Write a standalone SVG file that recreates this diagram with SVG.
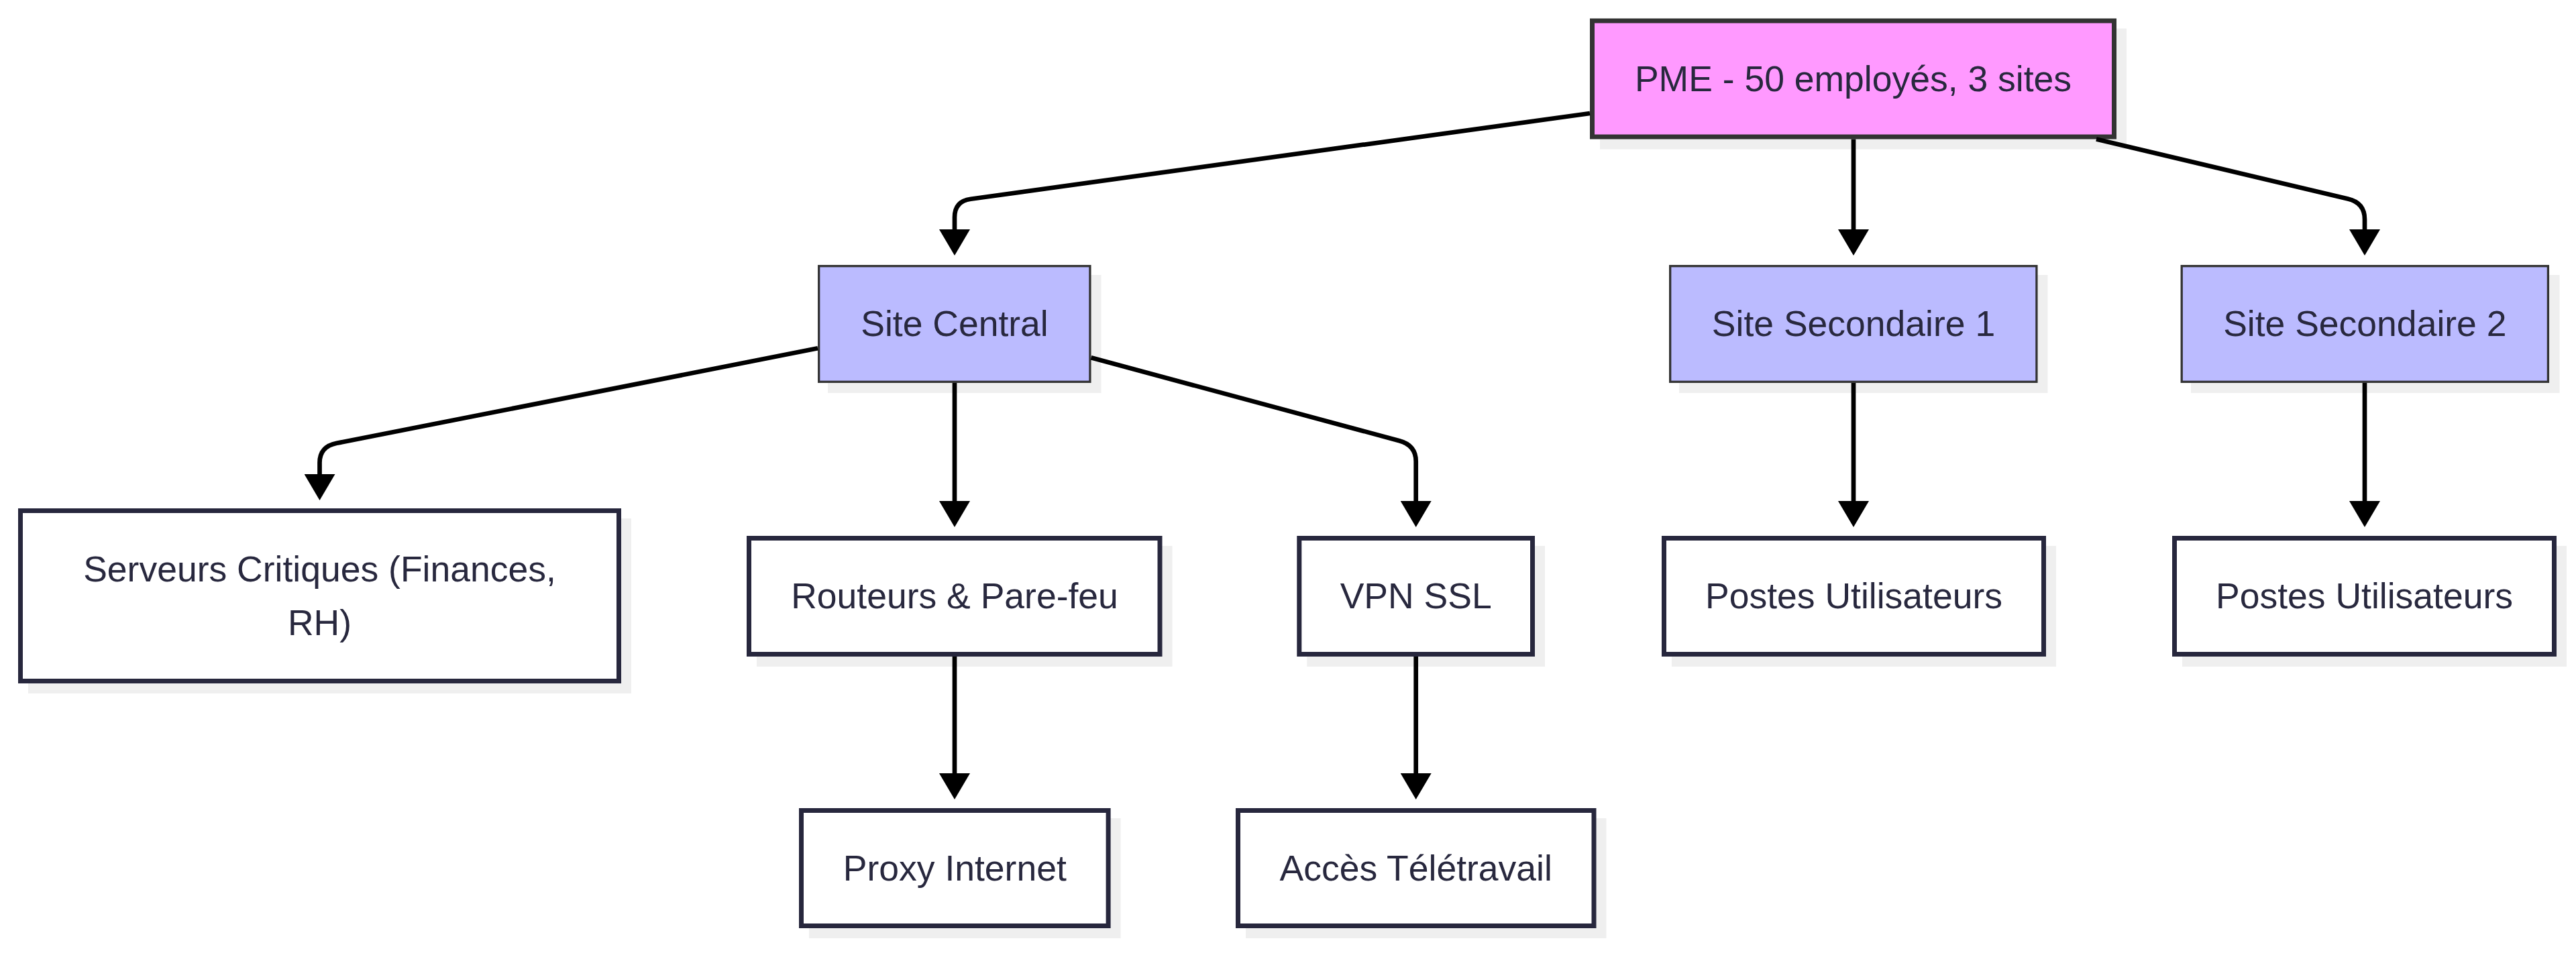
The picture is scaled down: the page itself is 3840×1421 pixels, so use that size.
<svg xmlns="http://www.w3.org/2000/svg" width="3840" height="1421" viewBox="0 0 3840 1421">
  <style>
    .shadow { fill: #efefef; stroke: none; }
    .root { fill: #ff99ff; stroke: #333333; stroke-width: 7; }
    .site { fill: #bbbbff; stroke: #333333; stroke-width: 3.3; }
    .leaf { fill: #ffffff; stroke: #27273d; stroke-width: 7; }
    .label { font-family: "Liberation Sans", Arial, sans-serif; font-size: 53.5px; fill: #28283e; text-anchor: middle; }
    .edge { fill: none; stroke: #000000; stroke-width: 6.7; marker-end: url(#arrow); }
  </style>
  <defs>
    <marker id="arrow" markerUnits="userSpaceOnUse" viewBox="0 0 39 46" refX="0" refY="23" markerWidth="39" markerHeight="46" orient="auto">
      <path d="M0,0 L39,23 L0,46 z" fill="#000000"/>
    </marker>
  </defs>
  <rect width="3840" height="1421" fill="#ffffff"/>

  <g id="node-pme">
    <rect class="shadow" x="2385" y="42.5" width="785" height="180"/>
    <rect class="root" x="2373.5" y="31" width="778" height="173"/>
    <text class="label" x="2762.5" y="135.5">PME - 50 employés, 3 sites</text>
  </g>
  <g id="node-site-central">
    <rect class="shadow" x="1234" y="410" width="407.5" height="176"/>
    <rect class="site" x="1220.7" y="396.7" width="404.2" height="172.6"/>
    <text class="label" x="1423" y="501">Site Central</text>
  </g>
  <g id="node-site-secondaire-1">
    <rect class="shadow" x="2503" y="410" width="549.5" height="176"/>
    <rect class="site" x="2489.7" y="396.7" width="546.2" height="172.6"/>
    <text class="label" x="2763" y="501">Site Secondaire 1</text>
  </g>
  <g id="node-site-secondaire-2">
    <rect class="shadow" x="3266" y="410" width="549.5" height="176"/>
    <rect class="site" x="3252.2" y="396.7" width="546.2" height="172.6"/>
    <text class="label" x="3525.3" y="501">Site Secondaire 2</text>
  </g>
  <g id="node-serveurs">
    <rect class="shadow" x="42" y="773" width="899" height="261"/>
    <rect class="leaf" x="30.5" y="761.5" width="892" height="254"/>
    <text class="label" x="476.5" y="866.5">Serveurs Critiques (Finances,</text>
    <text class="label" x="476.5" y="946.5">RH)</text>
  </g>
  <g id="node-routeurs">
    <rect class="shadow" x="1128" y="814" width="619.5" height="180"/>
    <rect class="leaf" x="1116.5" y="802.5" width="612.5" height="173"/>
    <text class="label" x="1423" y="907">Routeurs &amp; Pare-feu</text>
  </g>
  <g id="node-vpn">
    <rect class="shadow" x="1948.3" y="814" width="354.7" height="180"/>
    <rect class="leaf" x="1936.8" y="802.5" width="347.7" height="173"/>
    <text class="label" x="2110.7" y="907">VPN SSL</text>
  </g>
  <g id="node-postes-1">
    <rect class="shadow" x="2492" y="814" width="573" height="180"/>
    <rect class="leaf" x="2480.5" y="802.5" width="566" height="173"/>
    <text class="label" x="2763.5" y="907">Postes Utilisateurs</text>
  </g>
  <g id="node-postes-2">
    <rect class="shadow" x="3253" y="814" width="573" height="180"/>
    <rect class="leaf" x="3241.5" y="802.5" width="566" height="173"/>
    <text class="label" x="3524.5" y="907">Postes Utilisateurs</text>
  </g>
  <g id="node-proxy">
    <rect class="shadow" x="1206" y="1220" width="464.6" height="179"/>
    <rect class="leaf" x="1194.5" y="1208.5" width="457.6" height="172"/>
    <text class="label" x="1423.3" y="1312.5">Proxy Internet</text>
  </g>
  <g id="node-acces">
    <rect class="shadow" x="1857" y="1220" width="537.5" height="179"/>
    <rect class="leaf" x="1845.5" y="1208.5" width="530.5" height="172"/>
    <text class="label" x="2110.7" y="1312.5">Accès Télétravail</text>
  </g>

  <g id="connectors">
    <path class="edge" d="M2370,169 L1447,296.7 Q1423,300 1423,324 L1423,342"/>
    <path class="edge" d="M2763,207.5 L2763,342"/>
    <path class="edge" d="M3125,207.5 L3500,296.6 Q3525,302.5 3525,327 L3525,342"/>
    <path class="edge" d="M1219,519.3 L502,660.8 Q476.5,665.8 476.5,690 L476.5,707"/>
    <path class="edge" d="M1423,571 L1423,747"/>
    <path class="edge" d="M1626.5,533.3 L2086,657.2 Q2110.7,663.8 2110.7,688 L2110.7,747"/>
    <path class="edge" d="M2763,571 L2763,747"/>
    <path class="edge" d="M3525,571 L3525,747"/>
    <path class="edge" d="M1423,979 L1423,1153"/>
    <path class="edge" d="M2110.7,979 L2110.7,1153"/>
  </g>
</svg>
